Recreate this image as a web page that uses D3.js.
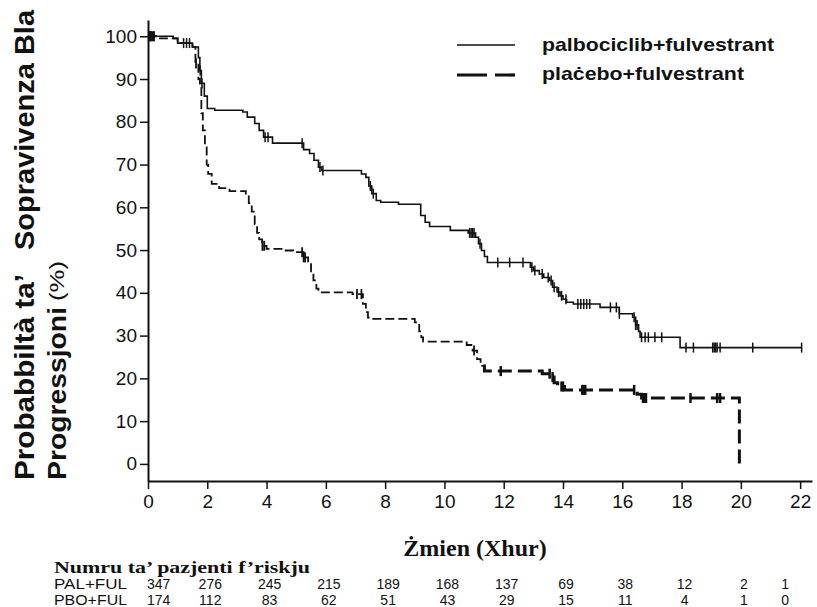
<!DOCTYPE html>
<html>
<head>
<meta charset="utf-8">
<script src="https://cdn.jsdelivr.net/npm/d3@7"></script>
<style>
  body { margin: 0; background: #fff; }
  svg { display: block; }
  text { font-family: Arial, "Liberation Sans", sans-serif; fill: #111; }
</style>
</head>
<body>
<svg id="chart" width="817" height="607"></svg>
<script>
// KM curve, palbociclib+fulvestrant: step times (months) and survival (%) after each step
const palTimes = [0, 0.85, 1.0, 1.5, 1.7, 1.75, 1.8, 1.9, 2.0, 2.25, 3.2, 3.35, 3.6, 3.75, 3.9, 4.2,
  5.25, 5.45, 5.6, 5.75, 5.85, 7.2, 7.35, 7.45, 7.55, 7.7, 7.85, 8.45, 9.2, 9.35, 9.5, 10.2,
  10.8, 11.05, 11.15, 11.25, 11.35, 11.45, 12.9, 13.0, 13.2, 13.35, 13.55, 13.65, 13.8, 13.9,
  14.0, 14.12, 14.35, 15.25, 15.9, 16.35, 16.45, 16.55, 16.6, 17.95, 22.05];
const palSurv = [100, 99.5, 98.4, 97.5, 95, 92, 89, 86, 83.1, 82.7, 82.3, 81.1, 79.6, 78, 76.4, 75,
  73.5, 72.6, 71, 69.4, 68.6, 67.8, 67, 65, 63.2, 61.6, 61.2, 60.7, 58.1, 56.5, 55.5, 54.6,
  54, 53, 51.5, 49.9, 48.5, 47.1, 46, 45.2, 44.4, 43.6, 42.9, 41.3, 40.2, 39.3,
  38.5, 37.8, 37.4, 36.6, 35.1, 34.3, 32.5, 31, 29.6, 27.2, 27.2];
const palCensor = [0.05, 0.1, 0.15, 0.2, 1.2, 1.3, 1.4, 1.76, 1.82, 3.95, 4.05, 5.2, 5.8, 5.9, 7.5, 7.6,
  10.85, 10.9, 10.95, 11.0, 11.2, 11.8, 12.2, 12.65, 12.95, 13.05, 13.3, 13.5, 13.6, 13.7, 13.85,
  13.95, 14.1, 14.5, 14.6, 14.7, 14.8, 14.9, 15.6, 15.8, 15.9, 16.4, 16.45, 16.5, 16.65, 16.77,
  16.88, 17.1, 17.33, 18.15, 18.4, 19.05, 19.1, 19.15, 19.2, 19.3, 20.4, 22.05];

// KM curve, placebo+fulvestrant
const pboTimes = [0, 0.4, 1.0, 1.5, 1.6, 1.7, 1.75, 1.8, 1.85, 1.92, 1.98, 2.03, 2.15, 2.4, 2.75,
  3.3, 3.4, 3.5, 3.6, 3.68, 3.75, 3.85, 4.0, 4.55, 4.9, 5.25, 5.4, 5.5, 5.58, 5.68, 5.75, 6.9,
  7.25, 7.35, 7.42, 7.5, 9.0, 9.15, 9.22, 9.28, 10.75, 10.95, 11.1, 11.22, 11.35, 13.3, 13.6,
  13.7, 13.82, 14.05, 16.5, 16.65, 19.95];
const pboSurv = [100, 99.5, 98.4, 97.5, 93.6, 90, 88, 82, 78, 74, 70, 67.8, 65.5, 64.5, 63.8,
  63.2, 61, 59, 56.1, 54, 52.5, 51, 50.3, 49.9, 49.5, 48.3, 47, 45, 42.9, 41, 40.1, 39.7,
  37.4, 35.5, 34.2, 33.9, 33.1, 31, 29.6, 28.6, 27.8, 26.5, 24.5, 22.9, 21.7, 21.1, 20.3,
  19, 18.1, 17.3, 16.3, 15.4, 0];
const pboCensor = [0.05, 0.1, 0.2, 1.62, 3.86, 3.92, 5.2, 5.25, 5.3, 7.05, 7.2, 11.0, 11.9, 13.55,
  13.65, 13.95, 14.0, 14.65, 14.7, 14.75, 16.4, 16.7, 16.75, 16.8, 18.3, 19.2, 19.3];

// number at risk
const riskMonths = [0, 2, 4, 6, 8, 10, 12, 14, 16, 18, 20, 22];
const riskPal = [347, 276, 245, 215, 189, 168, 137, 69, 38, 12, 2, 1];
const riskPbo = [174, 112, 83, 62, 51, 43, 29, 15, 11, 4, 1, 0];
const riskGroups = ["PAL+FUL", "PBO+FUL"];

const xTicks = [0, 2, 4, 6, 8, 10, 12, 14, 16, 18, 20, 22];
const yTicks = [0, 10, 20, 30, 40, 50, 60, 70, 80, 90, 100];
const legendLabels = ["palbociclib+fulvestrant", "plaċebo+fulvestrant"];

const svg = d3.select("#chart");

const x = d3.scaleLinear().domain([0, 22.4]).range([148, 812]);
const y = d3.scaleLinear().domain([-4, 103.8]).range([481, 20]);

// axes
const xAxis = svg.append("g")
  .attr("transform", `translate(0,${y(-4)})`)
  .call(d3.axisBottom(x).tickValues(xTicks).tickSize(8).tickSizeOuter(0).tickPadding(6));
xAxis.select(".domain").attr("stroke", "#111").attr("stroke-width", 2);
xAxis.selectAll(".tick line").attr("stroke", "#111").attr("stroke-width", 1.5);
xAxis.selectAll(".tick text").style("font-size", "19px").attr("fill", "#111");

const yAxis = svg.append("g")
  .attr("transform", `translate(${x(0)},0)`)
  .call(d3.axisLeft(y).tickValues(yTicks).tickSize(8).tickSizeOuter(0).tickPadding(3));
yAxis.select(".domain").attr("stroke", "#111").attr("stroke-width", 2);
yAxis.selectAll(".tick line").attr("stroke", "#111").attr("stroke-width", 1.5);
yAxis.selectAll(".tick text").style("font-size", "19px").attr("fill", "#111");

// step helpers
function survAt(times, vals, t) {
  let v = vals[0];
  for (let i = 0; i < times.length; i++) if (times[i] <= t) v = vals[i];
  return v;
}
const stepLine = d3.line().x(d => x(d[0])).y(d => y(d[1])).curve(d3.curveStepAfter);

const palPts = palTimes.map((t, i) => [t, palSurv[i]]);
const pboPts = pboTimes.map((t, i) => [t, pboSurv[i]]);

// placebo curve: thin dashes early, heavier dashes later (as in the scan)
const split = 11.3;
const pboA = pboPts.filter(d => d[0] <= split).concat([[split, survAt(pboTimes, pboSurv, split)]]);
const pboB = [[split, survAt(pboTimes, pboSurv, split)]].concat(pboPts.filter(d => d[0] > split));

svg.append("path").attr("d", stepLine(pboA))
  .attr("fill", "none").attr("stroke", "#111").attr("stroke-width", 1.8)
  .attr("stroke-dasharray", "9,4");
svg.append("path").attr("d", stepLine(pboB))
  .attr("fill", "none").attr("stroke", "#111").attr("stroke-width", 3)
  .attr("stroke-dasharray", "14,6");

svg.append("path").attr("d", stepLine(palPts))
  .attr("fill", "none").attr("stroke", "#111").attr("stroke-width", 1.6);

// censor marks
svg.append("g").selectAll("line")
  .data(palCensor)
  .join("line")
  .attr("x1", d => x(d)).attr("x2", d => x(d))
  .attr("y1", d => y(survAt(palTimes, palSurv, d)) - 5)
  .attr("y2", d => y(survAt(palTimes, palSurv, d)) + 5)
  .attr("stroke", "#111").attr("stroke-width", 1.5);

svg.append("g").selectAll("line")
  .data(pboCensor)
  .join("line")
  .attr("x1", d => x(d)).attr("x2", d => x(d))
  .attr("y1", d => y(survAt(pboTimes, pboSurv, d)) - 5)
  .attr("y2", d => y(survAt(pboTimes, pboSurv, d)) + 5)
  .attr("stroke", "#111").attr("stroke-width", d => d > split ? 2.5 : 1.8);

// legend
const legend = svg.append("g");
legend.append("line").attr("x1", 457).attr("x2", 515).attr("y1", 45).attr("y2", 45)
  .attr("stroke", "#111").attr("stroke-width", 1.5);
legend.append("line").attr("x1", 457).attr("x2", 515).attr("y1", 75).attr("y2", 75)
  .attr("stroke", "#111").attr("stroke-width", 3.2).attr("stroke-dasharray", "30,8");
legend.selectAll("text")
  .data(legendLabels)
  .join("text")
  .attr("x", 542).attr("y", (d, i) => 51 + i * 29)
  .attr("textLength", (d, i) => i === 0 ? 232 : 202)
  .attr("lengthAdjust", "spacingAndGlyphs")
  .style("font-size", "19px").style("font-weight", "bold")
  .text(d => d);

// y axis title (rotated, two lines)
const yTitle = [
  { text: "Probabbiltà ta’", x: 34, y: 480, len: 206, size: 28, bold: true },
  { text: "Sopravivenza Bla", x: 34, y: 250, len: 240, size: 28, bold: true },
  { text: "Progressjoni", x: 66, y: 480, len: 173, size: 26, bold: true },
  { text: "(%)", x: 64, y: 301, len: 40, size: 21, bold: false }
];
svg.append("g").selectAll("text")
  .data(yTitle)
  .join("text")
  .attr("transform", d => `translate(${d.x},${d.y}) rotate(-90)`)
  .attr("textLength", d => d.len)
  .attr("lengthAdjust", "spacingAndGlyphs")
  .style("font-size", d => d.size + "px")
  .style("font-weight", d => d.bold ? "bold" : "normal")
  .text(d => d.text);

// x axis title
svg.append("text")
  .attr("x", 475).attr("y", 556)
  .attr("text-anchor", "middle")
  .style("font-family", "'Times New Roman', 'Liberation Serif', serif")
  .style("font-size", "24px").style("font-weight", "bold")
  .text("Żmien (Xhur)");

// number at risk table
svg.append("text")
  .attr("x", 54).attr("y", 573)
  .attr("textLength", 256).attr("lengthAdjust", "spacingAndGlyphs")
  .style("font-family", "'Times New Roman', 'Liberation Serif', serif")
  .style("font-size", "17px").style("font-weight", "bold")
  .text("Numru ta’ pazjenti f’riskju");

const rows = [riskPal, riskPbo];
rows.forEach((vals, r) => {
  const by = 589 + r * 16;
  svg.append("text")
    .attr("x", 54).attr("y", by)
    .attr("textLength", 73).attr("lengthAdjust", "spacingAndGlyphs")
    .style("font-size", "14px")
    .text(riskGroups[r]);
  svg.append("g").selectAll("text")
    .data(vals)
    .join("text")
    .attr("x", (d, i) => i === 0 ? x(riskMonths[i]) - 1 : (i === vals.length - 1 ? x(riskMonths[i]) - 15 : x(riskMonths[i]) + 3))
    .attr("y", by)
    .attr("text-anchor", (d, i) => i === 0 ? "start" : "middle")
    .style("font-size", "14px")
    .text(d => d);
});
</script>
</body>
</html>
